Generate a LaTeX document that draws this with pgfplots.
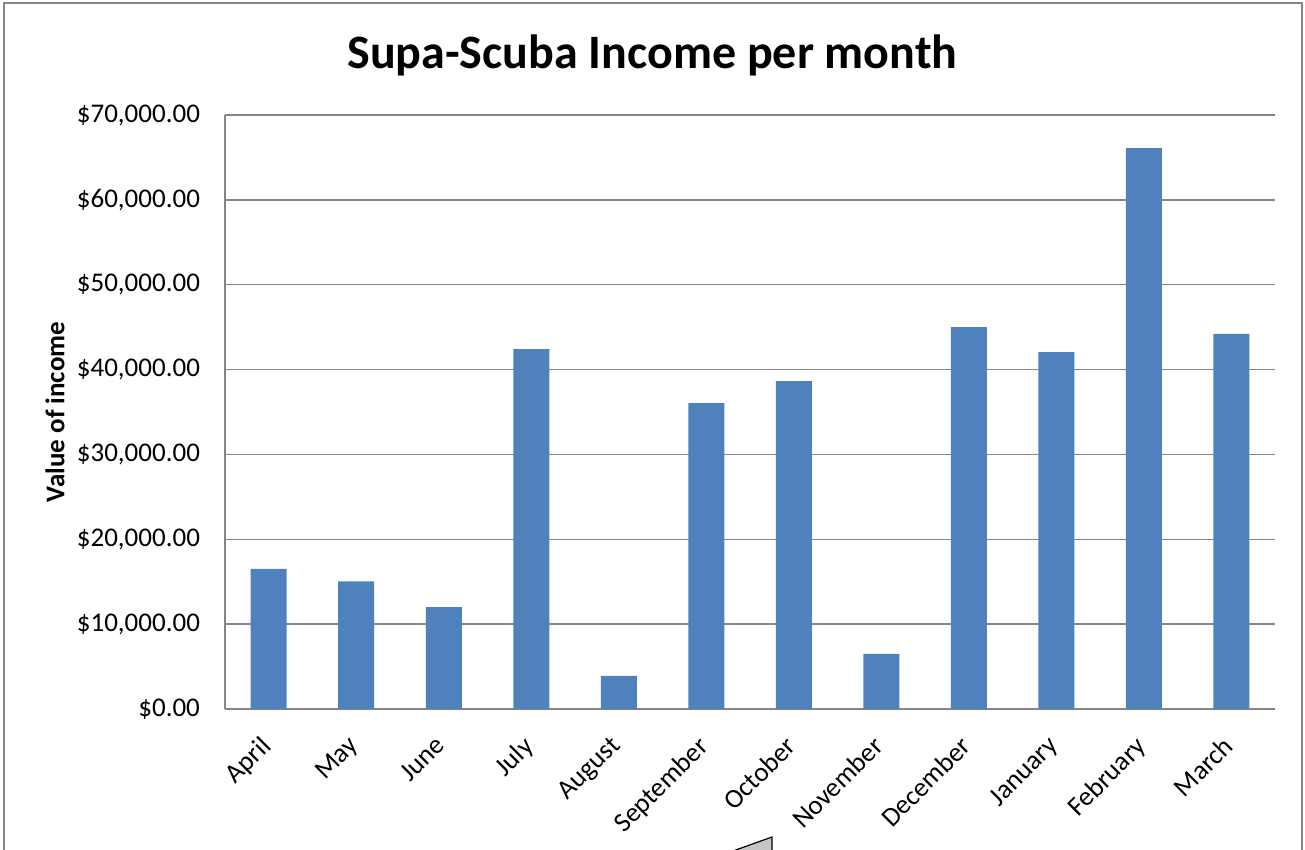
\documentclass[border=0pt]{standalone}
\usepackage{pgfplots}
\pgfplotsset{compat=1.18}
\usepackage{fontspec}
\setmainfont{Carlito}
\definecolor{barblue}{HTML}{4F81BD}
\definecolor{axgray}{HTML}{868686}
\begin{document}
\begin{tikzpicture}
\begin{axis}[
  at={(0,0)}, anchor=south west,
  scale only axis, width=525pt, height=297pt,
  xmin=-0.5, xmax=11.5, ymin=0, ymax=70000,
  scaled y ticks=false,
  ybar, bar width=18pt,
  axis x line*=bottom, axis y line*=left,
  axis line style={axgray, line width=0.9pt},
  ymajorgrids, grid style={axgray, line width=0.7pt},
  major tick length=0pt,
  xtick={0,...,11},
  xticklabels={April,May,June,July,August,September,October,November,December,January,February,March},
  ytick={0,10000,20000,30000,40000,50000,60000,70000},
  yticklabels={\$0.00,{\$10,000.00},{\$20,000.00},{\$30,000.00},{\$40,000.00},{\$50,000.00},{\$60,000.00},{\$70,000.00}},
  tick label style={font=\fontsize{13.5}{15}\selectfont},
  yticklabel style={xshift=-9pt},
  xticklabel style={xshift=-4.8pt, yshift=-12.7pt, rotate=45, anchor=north east, inner sep=0pt},
  ylabel={Value of income},
  ylabel style={at={(axis description cs:0,0.5)}, anchor=center, yshift=85pt, font=\fontsize{13.5}{15}\selectfont\bfseries},
  title={Supa-Scuba Income per month},
  title style={at={(axis description cs:0.407,1)}, anchor=center, yshift=24pt, font=\fontsize{24}{28}\selectfont\bfseries},
]
\addplot[fill=barblue, draw=none] coordinates {
(0,16500) (1,15050) (2,12000) (3,42400) (4,3900) (5,36050)
(6,38650) (7,6500) (8,45000) (9,42050) (10,66100) (11,44200)};
\end{axis}
\draw[axgray, line width=0.8pt] (-110.5pt,-71pt) -- (-110.5pt,353pt) -- (538.5pt,353pt) -- (538.5pt,-71pt);
\filldraw[fill=gray!45, draw=black, line width=0.6pt] (254pt,-71pt) -- (273.5pt,-64pt) -- (273.5pt,-71pt);
\pgfresetboundingbox
\useasboundingbox (-112.5pt,-70.5pt) rectangle (540pt,354.5pt);
\end{tikzpicture}
\end{document}
